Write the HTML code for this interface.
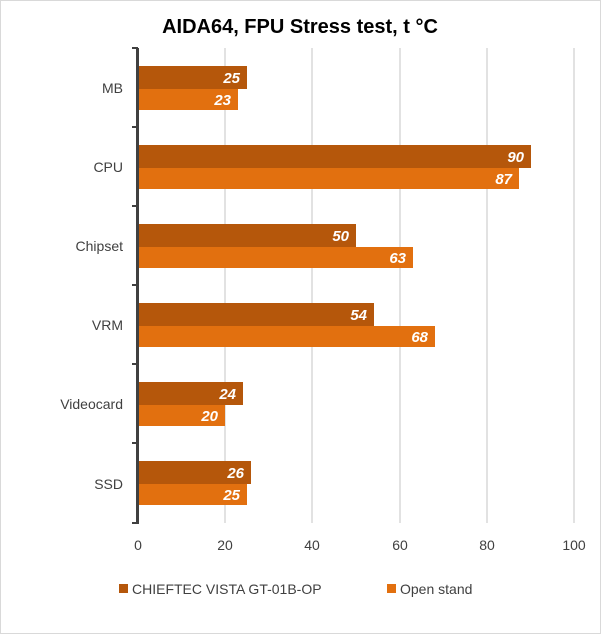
<!DOCTYPE html>
<html><head><style>body{margin:0;background:#fff}svg{display:block}</style></head><body>
<svg width="601" height="634" xmlns="http://www.w3.org/2000/svg" font-family="Liberation Sans, sans-serif">
<rect x="0.5" y="0.5" width="600" height="633" fill="#fff" stroke="#d9d9d9"/>
<text x="300" y="33" text-anchor="middle" font-size="20" font-weight="bold" fill="#000">AIDA64, FPU Stress test, t °C</text>
<g stroke="#d9d9d9" stroke-width="1.5">
<line x1="225" y1="48" x2="225" y2="523"/><line x1="312" y1="48" x2="312" y2="523"/>
<line x1="400" y1="48" x2="400" y2="523"/><line x1="487" y1="48" x2="487" y2="523"/>
<line x1="574" y1="48" x2="574" y2="523"/>
</g>
<g id="bars" font-size="15" font-weight="bold" font-style="italic" fill="#fff" text-anchor="end">
<rect x="139" y="66" width="108" height="23" fill="#b5570b"/><rect x="139" y="89" width="99" height="21" fill="#e2700f"/>
<text x="240" y="83">25</text><text x="231" y="105">23</text>
<rect x="139" y="145" width="392" height="23" fill="#b5570b"/><rect x="139" y="168" width="380" height="21" fill="#e2700f"/>
<text x="524" y="162">90</text><text x="512" y="184">87</text>
<rect x="139" y="224" width="217" height="23" fill="#b5570b"/><rect x="139" y="247" width="274" height="21" fill="#e2700f"/>
<text x="349" y="241">50</text><text x="406" y="263">63</text>
<rect x="139" y="303" width="235" height="23" fill="#b5570b"/><rect x="139" y="326" width="296" height="21" fill="#e2700f"/>
<text x="367" y="320">54</text><text x="428" y="342">68</text>
<rect x="139" y="382" width="104" height="23" fill="#b5570b"/><rect x="139" y="405" width="86" height="21" fill="#e2700f"/>
<text x="236" y="399">24</text><text x="218" y="421">20</text>
<rect x="139" y="461" width="112" height="23" fill="#b5570b"/><rect x="139" y="484" width="108" height="21" fill="#e2700f"/>
<text x="244" y="478">26</text><text x="240" y="500">25</text>
</g>
<g stroke="#404040" stroke-width="3">
<line x1="137.5" y1="48" x2="137.5" y2="524"/>
</g>
<g stroke="#404040" stroke-width="2">
<line x1="132" y1="48" x2="138" y2="48"/><line x1="132" y1="127" x2="138" y2="127"/>
<line x1="132" y1="206" x2="138" y2="206"/><line x1="132" y1="285" x2="138" y2="285"/>
<line x1="132" y1="364" x2="138" y2="364"/><line x1="132" y1="443" x2="138" y2="443"/>
<line x1="132" y1="523" x2="138" y2="523"/>
</g>
<g font-size="14" fill="#404040" text-anchor="end">
<text x="123" y="93">MB</text><text x="123" y="172">CPU</text><text x="123" y="251">Chipset</text>
<text x="123" y="330">VRM</text><text x="123" y="409">Videocard</text><text x="123" y="489">SSD</text>
</g>
<g font-size="14" fill="#404040" text-anchor="middle">
<text x="138" y="550">0</text><text x="225" y="550">20</text><text x="312" y="550">40</text>
<text x="400" y="550">60</text><text x="487" y="550">80</text><text x="574" y="550">100</text>
</g>
<rect x="119" y="584" width="9" height="9" fill="#b5570b"/>
<text x="132" y="594" font-size="14" fill="#404040">CHIEFTEC VISTA GT-01B-OP</text>
<rect x="387" y="584" width="9" height="9" fill="#e2700f"/>
<text x="400" y="594" font-size="14" fill="#404040">Open stand</text>
</svg>
</body></html>
